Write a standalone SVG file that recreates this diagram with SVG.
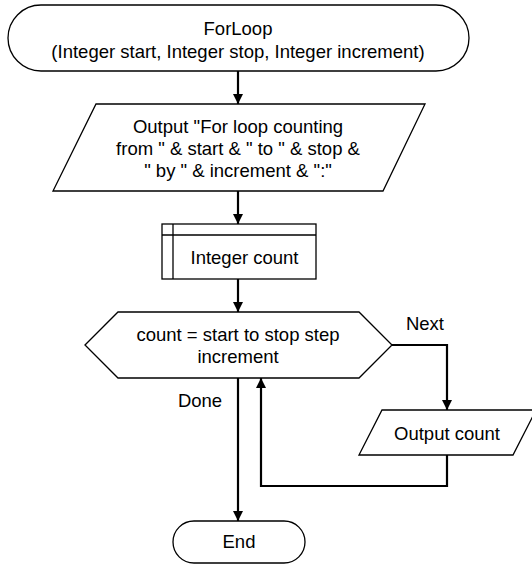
<svg xmlns="http://www.w3.org/2000/svg" width="532" height="564" viewBox="0 0 532 564">
<style>
.n{fill:#fff;stroke:#000;stroke-width:1.3}
.c{fill:none;stroke:#000;stroke-width:2.2}
text{font-family:"Liberation Sans",Arial,sans-serif;font-size:18.5px;fill:#000;text-anchor:middle}
</style>
<defs>
<marker id="ah" viewBox="0 0 10 10" refX="10" refY="5" markerWidth="10" markerHeight="10" markerUnits="userSpaceOnUse" orient="auto">
<path d="M0,0 L10,5 L0,10 Z" fill="#000"/>
</marker>
</defs>
<rect width="532" height="564" fill="#fff"/>
<g id="connectors">
<path class="c" d="M238,71 V104" marker-end="url(#ah)"/>
<path class="c" d="M238,191 V224" marker-end="url(#ah)"/>
<path class="c" d="M238,279 V312" marker-end="url(#ah)"/>
<path class="c" d="M392,345 H447 V410" marker-end="url(#ah)"/>
<path class="c" d="M447,455 V486 H261 V378" marker-end="url(#ah)"/>
<path class="c" d="M238,378 V521" marker-end="url(#ah)"/>
<text x="425" y="330">Next</text>
<text x="200" y="407">Done</text>
</g>
<g id="start">
<rect class="n" x="8" y="5" width="461" height="66" rx="33" ry="33"/>
<text x="238" y="35">ForLoop</text>
<text x="238" y="57.5">(Integer start, Integer stop, Integer increment)</text>
</g>
<g id="output1">
<polygon class="n" points="96,104 425,104 383,191 53,191"/>
<text x="238" y="133">Output &quot;For loop counting</text>
<text x="238" y="155">from &quot; &amp; start &amp; &quot; to &quot; &amp; stop &amp;</text>
<text x="238" y="177">&quot; by &quot; &amp; increment &amp; &quot;:&quot;</text>
</g>
<g id="declare">
<rect class="n" x="162" y="224" width="154" height="55"/>
<line class="n" x1="173" y1="224" x2="173" y2="279"/>
<line class="n" x1="162" y1="235" x2="316" y2="235"/>
<text x="244.5" y="264">Integer count</text>
</g>
<g id="loop">
<polygon class="n" points="85,345 118,312 359,312 392,345 359,378 118,378"/>
<text x="238" y="341">count = start to stop step</text>
<text x="238" y="363">increment</text>
</g>
<g id="output2">
<polygon class="n" points="382,410 536,410 513,455 359,455"/>
<text x="447" y="440">Output count</text>
</g>
<g id="end">
<rect class="n" x="173" y="521" width="132" height="42" rx="21" ry="21"/>
<text x="239" y="548">End</text>
</g>
</svg>
